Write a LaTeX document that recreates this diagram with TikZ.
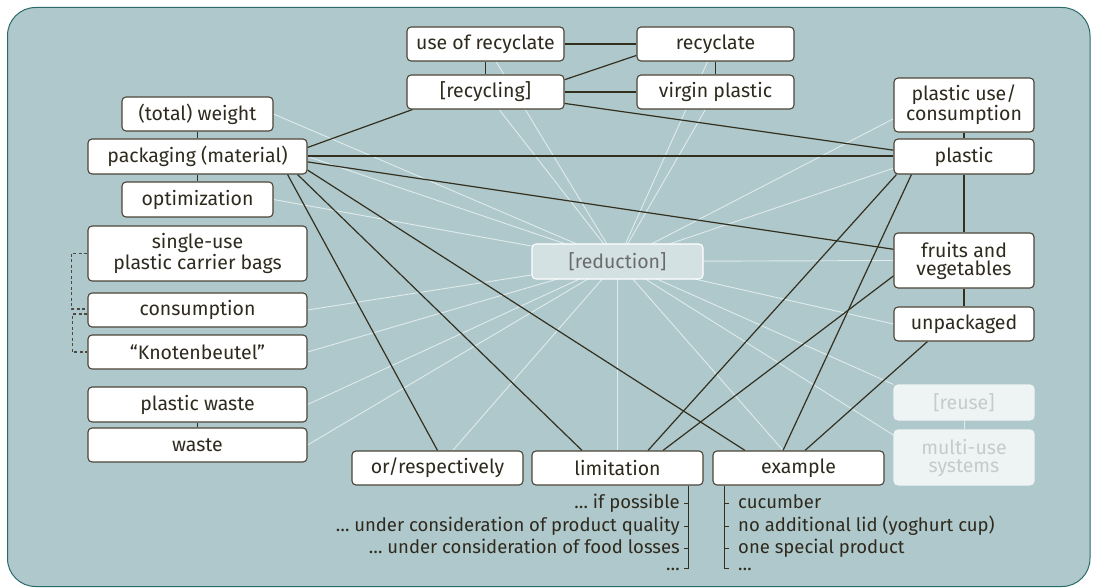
\documentclass[tikz,border=0pt]{standalone}
\usepackage{fontspec}
\setmainfont{Fira Sans}
\usetikzlibrary{calc}

\definecolor{panel}{HTML}{AFC8CB}
\definecolor{panelrim}{HTML}{2B6A6B}
\definecolor{boxrim}{HTML}{4A4437}
\definecolor{ink}{HTML}{2E2A1E}
\definecolor{linkdark}{HTML}{33301F}
\definecolor{linkpale}{HTML}{E0EBEC}
\definecolor{hubfill}{HTML}{D3E1E2}
\definecolor{hubtext}{HTML}{6B6B6B}
\definecolor{ghostfill}{HTML}{EEF3F4}
\definecolor{ghosttext}{HTML}{C6CACA}
\definecolor{dashgrey}{HTML}{4A4A40}

\newcommand\boxfont{\fontsize{19.5}{18}\selectfont}
\newcommand\itemfont{\fontsize{18.5}{18}\selectfont}

\pgfdeclarelayer{backdrop}
\pgfdeclarelayer{links}
\pgfsetlayers{backdrop,links,main}

\tikzset{
  box/.style={draw=boxrim, fill=white, rounded corners=4pt, line width=1.1pt,
    text=ink, inner sep=0pt, align=center, font=\boxfont},
  hub/.style={box, draw=white, fill=hubfill, text=hubtext},
  ghost/.style={box, draw=ghostfill, fill=ghostfill, text=ghosttext},
  dark/.style={draw=linkdark, line width=1.2pt},
  darkthick/.style={draw=linkdark, line width=2pt},
  pale/.style={draw=linkpale, line width=0.9pt},
  dashlink/.style={draw=dashgrey, line width=1.1pt, dash pattern=on 3pt off 2.5pt},
  bracket/.style={draw=linkdark, line width=1.8pt},
  tick/.style={draw=linkdark, line width=1.4pt},
  item/.style={text=ink, inner sep=0pt, font=\itemfont},
}

\begin{document}
\begin{tikzpicture}[x=1pt,y=-1pt]
\useasboundingbox (0,0) rectangle (1093,588);

% left column
\node[box, minimum width=151pt, minimum height=34pt] (weight) at (197.5,114) {(total) weight};
\node[box, minimum width=219pt, minimum height=35pt] (packaging) at (197.5,156.5) {packaging (material)};
\node[box, minimum width=151pt, minimum height=35pt] (optimization) at (197.5,199.5) {optimization};
\node[box, minimum width=219pt, minimum height=55pt] (single) at (197.5,253.5) {single-use\\plastic carrier bags};
\node[box, minimum width=219pt, minimum height=34pt] (consumption) at (197.5,310) {consumption};
\node[box, minimum width=219pt, minimum height=34pt] (knoten) at (197.5,352) {“Knotenbeutel”};
\node[box, minimum width=219pt, minimum height=35pt] (pwaste) at (197.5,404.5) {plastic waste};
\node[box, minimum width=219pt, minimum height=34pt] (waste) at (197.5,445) {waste};

% top group
\node[box, minimum width=157pt, minimum height=34pt] (userec) at (485.5,44) {use of recyclate};
\node[box, minimum width=157pt, minimum height=34pt] (recyclate) at (715.5,44) {recyclate};
\node[box, minimum width=157pt, minimum height=34pt] (recycling) at (485.5,92) {[recycling]};
\node[box, minimum width=157pt, minimum height=34pt] (virgin) at (715.5,92) {virgin plastic};

% right column
\node[box, minimum width=140pt, minimum height=54pt] (puse) at (964,105) {plastic use/\\consumption};
\node[box, minimum width=140pt, minimum height=35pt] (plastic) at (964,156.5) {plastic};
\node[box, minimum width=140pt, minimum height=55pt] (fruits) at (964,260.5) {fruits and\\vegetables};
\node[box, minimum width=140pt, minimum height=34pt] (unpack) at (964,324) {unpackaged};
\node[ghost, minimum width=140pt, minimum height=35pt] (reuse) at (964,402.5) {[reuse]};
\node[ghost, minimum width=140pt, minimum height=55pt] (multiuse) at (964,457.5) {multi-use\\systems};

% centre and bottom row
\node[hub, minimum width=171pt, minimum height=35pt] (reduction) at (617.5,261.5) {[reduction]};
\node[box, minimum width=171pt, minimum height=34pt] (orresp) at (437.5,468) {or/respectively};
\node[box, minimum width=171pt, minimum height=34pt] (limitation) at (617.5,468) {limitation};
\node[box, minimum width=171pt, minimum height=34pt] (example) at (798.5,468) {example};

% sub-items of "limitation"
\node[item, anchor=base east] (lim1) at (680,508.5) {… if possible};
\node[item, anchor=base east] (lim2) at (680,531.5) {… under consideration of product quality};
\node[item, anchor=base east] (lim3) at (680,553.5) {… under consideration of food losses};
\node[item, anchor=base east] (lim4) at (680,570) {…};

% sub-items of "example"
\node[item, anchor=base west] (ex1) at (738,508.5) {cucumber};
\node[item, anchor=base west] (ex2) at (738,531.5) {no additional lid (yoghurt cup)};
\node[item, anchor=base west] (ex3) at (738,553.5) {one special product};
\node[item, anchor=base west] (ex4) at (738,570) {…};

\coordinate (limbar) at ([xshift=-15pt]limitation.south east);
\coordinate (exbar) at ([xshift=12pt]example.south west);

\begin{pgfonlayer}{backdrop}
  \draw[draw=panelrim, fill=panel, line width=1pt, rounded corners=28pt]
    (7.5,7.5) rectangle (1090,586.5);
\end{pgfonlayer}

\begin{pgfonlayer}{links}
  % pale spokes around [reduction]
  \foreach \n in {weight, packaging, optimization, consumption, knoten, pwaste, waste}
    \draw[pale] (\n.east) -- (reduction.center);
  \foreach \n in {userec, recycling, recyclate, virgin, orresp, limitation, example}
    \draw[pale] (\n) -- (reduction.center);
  \draw[pale] ($(puse.west)!0.5!(puse.south west)$) -- (reduction.center);
  \draw[pale] ($(plastic.west)!0.65!(plastic.south west)$) -- (reduction.center);
  \draw[pale] (fruits.west) -- (reduction.center);
  \draw[pale] (unpack.west) -- (reduction.center);
  \draw[pale] (reuse.north west) -- (reduction.center);
  \draw[pale] ($(multiuse.west)!0.8!(multiuse.north west)$) -- (reduction.center);
  \draw[pale] (reuse) -- (multiuse);

  % dark links
  \draw[dark] (weight) -- (packaging);
  \draw[dark] (packaging) -- (optimization);
  \draw[dark] (pwaste) -- (waste);
  \draw[dark] (userec) -- (recyclate);
  \draw[dark] (userec) -- (recycling);
  \draw[dark] (recyclate) -- (virgin);
  \draw[dark] ($(recycling.north east)!0.15!(recycling.south east)$) -- ($(recyclate.west)!0.65!(recyclate.south west)$);
  \draw[darkthick] (recycling) -- (virgin);
  \draw[dark] ($(recycling.east)!0.65!(recycling.south east)$) -- ($(plastic.west)!0.35!(plastic.north west)$);
  \draw[dark] ($(packaging.east)!0.5!(packaging.north east)$) -- ([xshift=6pt]recycling.south west);
  \draw[darkthick] (packaging) -- (plastic);
  \draw[dark] ($(packaging.east)!0.3!(packaging.south east)$) -- ($(fruits.west)!0.4!(fruits.north west)$);
  \draw[dark] ([xshift=-20pt]packaging.south east) -- (orresp.north);
  \draw[dark] ([xshift=-10pt]packaging.south east) -- ([xshift=-35.5pt]limitation.north);
  \draw[dark] ($(packaging.south east)!0.25!(packaging.east)$) -- ([xshift=-53.5pt]example.north);
  \draw[dark] ([xshift=3pt]plastic.south west) -- ([xshift=30.5pt]limitation.north);
  \draw[dark] ($(fruits.west)!0.55!(fruits.south west)$) -- ([xshift=45.5pt]limitation.north);
  \draw[dark] ([xshift=18pt]plastic.south west) -- ([xshift=-15.5pt]example.north);
  \draw[dark] ([xshift=34pt]unpack.south west) -- ([xshift=6.5pt]example.north);
  \draw[dark] (puse) -- (plastic);
  \draw[dark] (plastic) -- (fruits);
  \draw[darkthick] (fruits) -- (unpack);

  % dashed brackets on the left
  \draw[dashlink] (single.west) -- ++(-16,0) |- ([yshift=1pt]consumption.west);
  \draw[dashlink] ([yshift=-4pt]consumption.west) -- ++(-15,0) |- (knoten.west);
\end{pgfonlayer}

% brackets of the sub-item lists
\draw[bracket] (limbar) -- ++(0,83) -- ++(-5,0);
\foreach \d in {18,41,63}
  \draw[tick] ([yshift=-\d pt]limbar) -- ++(-5,0);
\draw[bracket] (exbar) -- ++(0,83) -- ++(5,0);
\foreach \d in {18,41,63}
  \draw[tick] ([yshift=-\d pt]exbar) -- ++(5,0);
\end{tikzpicture}
\end{document}
